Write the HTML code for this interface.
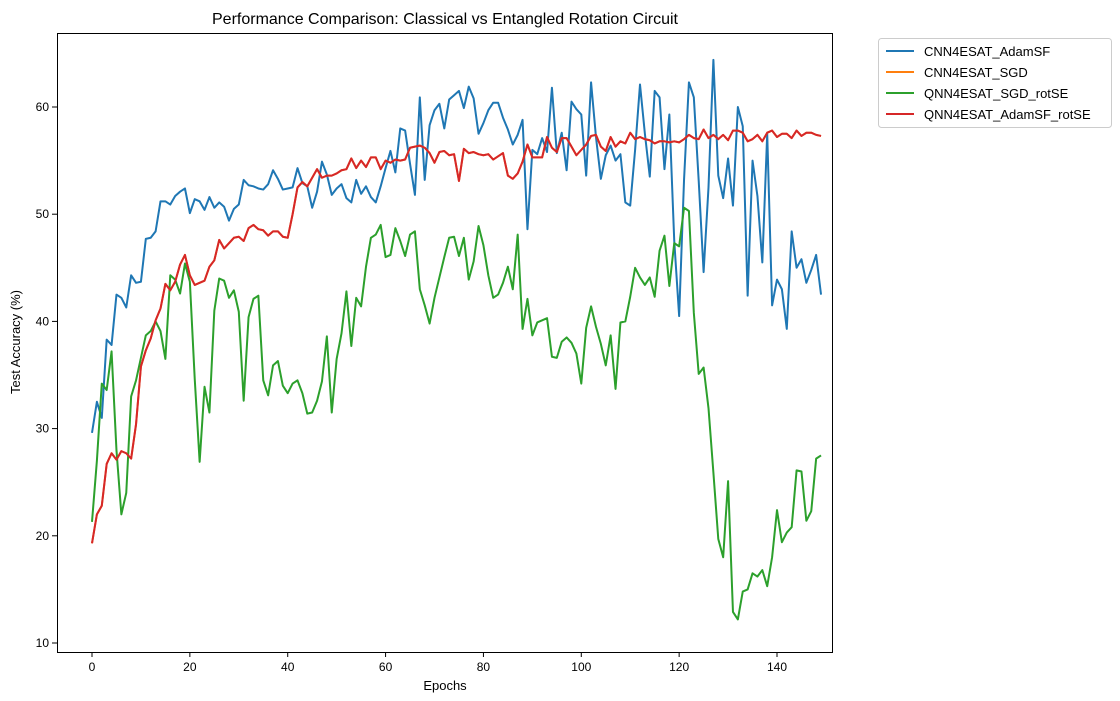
<!DOCTYPE html>
<html><head><meta charset="utf-8"><style>
body{margin:0;background:#fff;}
svg{display:block;font-family:"Liberation Sans","DejaVu Sans",sans-serif;}
</style></head><body>
<svg id="chart" width="1120" height="701" viewBox="0 0 1120 701">
<rect x="0" y="0" width="1120" height="701" fill="#fff"/>
<text x="445" y="24" text-anchor="middle" font-size="16">Performance Comparison: Classical vs Entangled Rotation Circuit</text>
<g id="plot"></g>
<text x="445" y="690" text-anchor="middle" font-size="13">Epochs</text>
<text transform="translate(20,342) rotate(-90)" text-anchor="middle" font-size="13">Test Accuracy (%)</text>
<g>
<rect x="878.5" y="38.5" width="233" height="89" rx="3" fill="#fff" stroke="#ccc"/>
<line x1="886" y1="51" x2="914" y2="51" stroke="#1f77b4" stroke-width="2"/>
<text x="924" y="56" font-size="13">CNN4ESAT_AdamSF</text>
<line x1="886" y1="72" x2="914" y2="72" stroke="#ff7f0e" stroke-width="2"/>
<text x="924" y="77" font-size="13">CNN4ESAT_SGD</text>
<line x1="886" y1="93" x2="914" y2="93" stroke="#2ca02c" stroke-width="2"/>
<text x="924" y="98" font-size="13">QNN4ESAT_SGD_rotSE</text>
<line x1="886" y1="114" x2="914" y2="114" stroke="#d62728" stroke-width="2"/>
<text x="924" y="119" font-size="13">QNN4ESAT_AdamSF_rotSE</text>
</g>
</svg>
<script>
const xTicks=[0,20,40,60,80,100,120,140];
const yTicks=[10,20,30,40,50,60];
const cnnAdam=[29.6,32.5,31,38.3,37.8,42.5,42.2,41.3,44.3,43.6,43.7,47.7,47.8,48.4,51.2,51.2,50.9,51.7,52.1,52.4,50.1,51.4,51.2,50.4,51.6,50.6,51.1,50.7,49.4,50.5,50.9,53.2,52.7,52.6,52.4,52.3,52.8,54.1,53.3,52.3,52.4,52.5,54.3,52.9,52.6,50.6,52.1,54.9,53.7,51.8,52.4,52.8,51.5,51.1,53.2,51.9,52.6,51.6,51.1,52.6,54.3,55.9,53.9,58.0,57.8,54.7,51.8,60.9,53.2,58.3,59.7,60.3,58.0,60.7,61.1,61.5,59.9,61.9,60.8,57.5,58.5,59.7,60.4,60.4,59.0,57.9,56.5,57.4,58.8,48.6,56.0,55.6,57.1,55.8,61.8,55.7,57.6,54.1,60.5,59.8,59.3,53.6,62.3,57.2,53.3,55.5,56.4,55.0,55.6,51.1,50.8,56.0,62.1,57.5,53.5,61.5,60.9,54.2,59.3,47.5,40.5,53.2,62.3,60.9,53.1,44.6,52.5,64.4,53.6,51.5,55.2,50.8,60.0,58.2,42.4,55.0,51.7,45.5,57.5,41.5,43.9,43.0,39.3,48.4,45.0,45.8,43.6,44.8,46.2,42.5];
const qnnAdam=[19.3,22.0,22.8,26.7,27.7,27.1,27.9,27.7,27.2,30.4,35.8,37.3,38.4,40.1,41.2,43.5,42.9,43.7,45.3,46.2,44.3,43.4,43.6,43.8,45.1,45.7,47.6,46.8,47.3,47.8,47.9,47.5,48.7,49.0,48.6,48.5,48.0,48.4,48.4,47.9,47.8,50.0,52.5,53.0,52.6,53.4,54.2,53.4,53.6,53.6,53.8,54.1,54.2,55.2,54.3,55.0,54.4,55.3,55.3,54.2,55.0,54.8,55.1,55.0,55.1,56.2,56.3,56.4,56.2,55.7,54.8,55.8,55.9,55.5,55.6,53.1,56.1,55.7,55.8,55.6,55.5,55.6,55.1,55.4,55.7,53.6,53.3,53.8,54.9,56.5,55.3,55.3,55.3,57.2,56.2,55.8,57.1,57.1,56.3,55.5,56.0,56.5,57.3,57.4,56.3,55.9,57.2,56.3,56.8,56.6,57.6,57.0,57.2,57.0,56.9,56.6,56.8,56.8,56.7,56.8,56.7,57.0,57.4,57.1,57.0,57.9,57.1,57.4,57.0,57.4,56.9,57.8,57.8,57.6,56.8,57.0,57.4,56.8,57.6,57.8,57.2,57.5,57.5,57.1,57.8,57.3,57.6,57.6,57.4,57.3];
const cnnSgd=qnnAdam.slice();
const qnnSgd=[21.3,27.0,34.2,33.6,37.2,28.0,22.0,24.0,33.0,34.5,36.6,38.7,39.1,40.0,39.1,36.5,44.3,43.9,42.6,45.4,43.7,34.6,26.9,33.9,31.5,41.0,44.0,43.8,42.2,42.9,40.9,32.6,40.4,42.1,42.4,34.5,33.1,35.9,36.3,34.0,33.3,34.2,34.5,33.3,31.4,31.5,32.6,34.4,38.6,31.5,36.5,38.9,42.8,37.7,42.2,41.4,45.1,47.8,48.1,49.0,46.0,46.2,48.7,47.5,46.1,48.1,48.4,43.0,41.5,39.8,42.2,44.1,46.0,47.8,47.9,46.1,47.8,43.9,45.6,48.9,47.1,44.3,42.2,42.5,43.6,45.1,43.0,48.1,39.3,42.1,38.7,39.9,40.1,40.3,36.7,36.6,38.1,38.5,38.0,37.0,34.2,39.4,41.4,39.5,37.9,35.9,38.7,33.7,39.9,40.0,42.3,45.0,44.1,43.4,44.1,42.3,46.6,48.0,43.3,47.3,47.0,50.6,50.3,40.8,35.1,35.7,31.9,25.9,19.7,18.0,25.1,12.9,12.2,14.8,15.0,16.5,16.2,16.8,15.3,18.0,22.4,19.4,20.3,20.8,26.1,26.0,21.4,22.3,27.2,27.5];

const NS='http://www.w3.org/2000/svg';
const L=57,R=832,T=33,B=652;
const xs=v=>92+v*(777-92)/140;
const ys=v=>643-(v-10)*(643-107)/50;
const g=document.getElementById('plot');
function mk(tag,attrs){const e=document.createElementNS(NS,tag);for(const k in attrs)e.setAttribute(k,attrs[k]);return e;}
xTicks.forEach(t=>{
  const ln=mk('line',{x1:xs(t),x2:xs(t),y1:B,y2:B+5,stroke:'#000'});
  
  
  g.appendChild(ln);
  const tx=mk('text',{x:xs(t),y:B+19,'text-anchor':'middle','font-size':'12'});
  tx.textContent=t;
  
  
  g.appendChild(tx);
});
yTicks.forEach(t=>{
  const ln=mk('line',{x1:L-5,x2:L,y1:ys(t),y2:ys(t),stroke:'#000'});
  
  
  g.appendChild(ln);
  const tx=mk('text',{x:L-8,y:ys(t)+4,'text-anchor':'end','font-size':'12'});
  tx.textContent=t;
  
  
  g.appendChild(tx);
});
function line(data,color,name){
  const p=mk('polyline',{points:data.map((v,i)=>xs(i)+','+ys(v)).join(' '),fill:'none',stroke:color,'stroke-width':'2','stroke-linejoin':'round'});
  
  
  g.appendChild(p);
}
line(cnnAdam,'#1f77b4','series-cnn-adamsf');
line(cnnSgd,'#ff7f0e','series-cnn-sgd');
line(qnnSgd,'#2ca02c','series-qnn-sgd-rotse');
line(qnnAdam,'#d62728','series-qnn-adamsf-rotse');
const fr=mk('rect',{x:L+0.5,y:T+0.5,width:R-L,height:B-T,fill:'none',stroke:'#000'});


g.appendChild(fr);
</script>
</body></html>
